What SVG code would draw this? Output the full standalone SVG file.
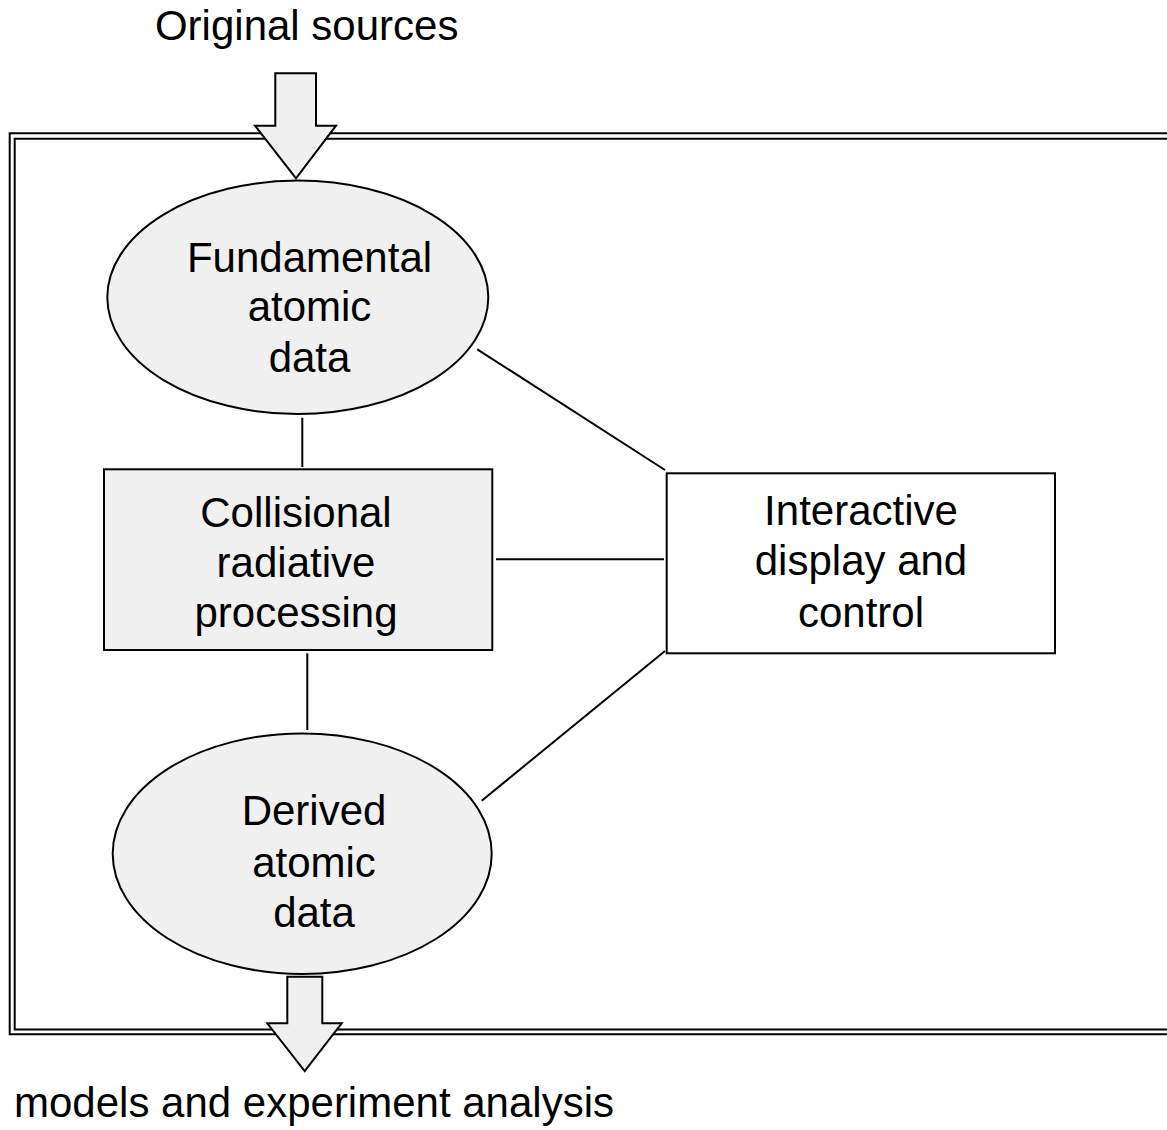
<svg xmlns="http://www.w3.org/2000/svg" width="1167" height="1130" viewBox="0 0 1167 1130">
  <style>
    .lbl { font-family: "Liberation Sans", Arial, sans-serif; font-size: 42px; fill: #000; text-anchor: middle; }
    .shape { stroke: #000; stroke-width: 2; }
    .gray { fill: #f0f0f0; }
    .white { fill: #fff; }
    .frame { fill: none; stroke: #000; stroke-width: 2; }
    .link { stroke: #000; stroke-width: 2; fill: none; }
  </style>
  <rect width="1167" height="1130" fill="#fff"/>

  <!-- double frame, open on the right -->
  <g id="frame">
    <path class="frame" d="M1170,133.2 H9.7 V1034.2 H1170"/>
    <path class="frame" d="M1170,138.7 H14.7 V1029.5 H1170"/>
  </g>

  <!-- connectors -->
  <g id="connectors">
    <line class="link" x1="302.3" y1="417.7" x2="302.3" y2="467"/>
    <line class="link" x1="307.3" y1="653.3" x2="307.3" y2="730"/>
    <line class="link" x1="496" y1="559.3" x2="664" y2="559.3"/>
    <line class="link" x1="477.3" y1="349.3" x2="665" y2="470"/>
    <line class="link" x1="481.7" y1="800.7" x2="665" y2="651"/>
  </g>

  <!-- input arrow -->
  <g id="input">
    <polygon class="shape gray" points="275.3,73.3 316,73.3 316,125.7 336,125.7 296,178.3 255,125.7 275.3,125.7"/>
    <text class="lbl" x="306.7" y="40">Original sources</text>
  </g>

  <g id="fundamental">
    <ellipse class="shape gray" cx="297.8" cy="297.3" rx="190.5" ry="116.7"/>
    <text class="lbl" x="309.5" y="271.7">Fundamental</text>
    <text class="lbl" x="309.5" y="321">atomic</text>
    <text class="lbl" x="309.5" y="372">data</text>
  </g>

  <g id="processing">
    <rect class="shape gray" x="104" y="469.3" width="388.3" height="180.7"/>
    <text class="lbl" x="296" y="526.7">Collisional</text>
    <text class="lbl" x="296" y="576.7">radiative</text>
    <text class="lbl" x="296" y="626.7">processing</text>
  </g>

  <g id="display">
    <rect class="shape white" x="666.7" y="473.3" width="388.3" height="180"/>
    <text class="lbl" x="861" y="525">Interactive</text>
    <text class="lbl" x="861" y="575">display and</text>
    <text class="lbl" x="861" y="626.7">control</text>
  </g>

  <g id="derived">
    <ellipse class="shape gray" cx="302.2" cy="853.7" rx="189.5" ry="120.3"/>
    <text class="lbl" x="314" y="825">Derived</text>
    <text class="lbl" x="314" y="876.7">atomic</text>
    <text class="lbl" x="314" y="926.7">data</text>
  </g>

  <!-- output arrow -->
  <g id="output">
    <polygon class="shape gray" points="287.3,976.7 322.3,976.7 322.3,1023.3 341.7,1023.3 304.7,1071 267.3,1023.3 287.3,1023.3"/>
    <text class="lbl" x="14" y="1116.7" style="text-anchor:start">models and experiment analysis</text>
  </g>
</svg>
